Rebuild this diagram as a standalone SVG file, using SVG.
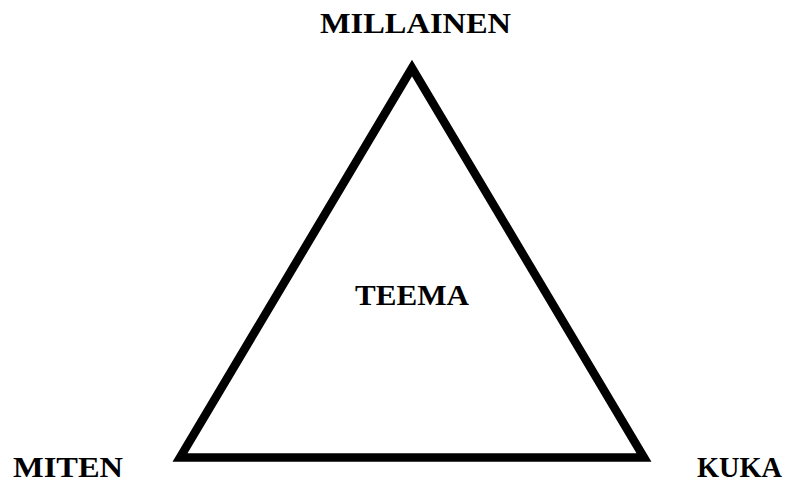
<svg xmlns="http://www.w3.org/2000/svg" width="785" height="484" viewBox="0 0 785 484">
<style>
text{font-family:"Liberation Serif","Times New Roman",serif;font-weight:bold;font-size:29px;fill:#000}
.tri{fill:none;stroke:#000;stroke-width:8.5;stroke-linejoin:miter;stroke-miterlimit:10}
</style>
<rect width="785" height="484" fill="#fff"/>
<g id="connectors">
<polygon id="triangle" class="tri" points="412,68 180,457.5 644,457.5"/>
</g>
<g id="node-millainen"><text x="320" y="33" textLength="191" lengthAdjust="spacingAndGlyphs">MILLAINEN</text></g>
<g id="node-teema"><text x="355" y="305" textLength="114" lengthAdjust="spacingAndGlyphs">TEEMA</text></g>
<g id="node-miten"><text x="13" y="477" textLength="110" lengthAdjust="spacingAndGlyphs">MITEN</text></g>
<g id="node-kuka"><text x="697" y="477" textLength="85" lengthAdjust="spacingAndGlyphs">KUKA</text></g>
</svg>
